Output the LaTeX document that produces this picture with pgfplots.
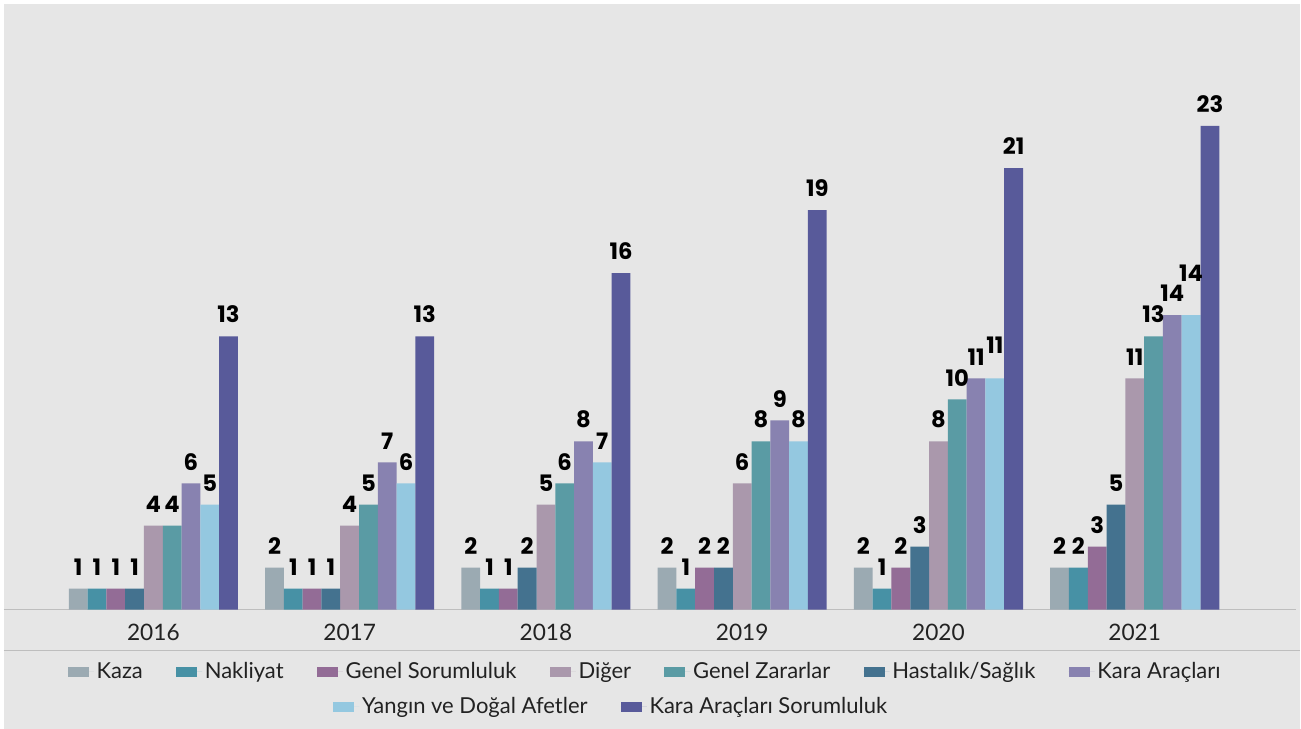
\documentclass[border=0pt]{standalone}
\usepackage{fontspec}
\setmainfont{Lato}
\newfontfamily\popfont{Poppins}
\usepackage{pgfplots}
\usepackage{pgfplotstable}
\pgfplotsset{compat=1.18}

\definecolor{bg}{HTML}{E6E6E6}
\definecolor{linegray}{HTML}{BEBEBE}
\definecolor{txt}{HTML}{222222}
\definecolor{cKaza}{HTML}{9BAAB2}
\definecolor{cNak}{HTML}{4791A5}
\definecolor{cGS}{HTML}{936C96}
\definecolor{cDig}{HTML}{AA98AC}
\definecolor{cGZ}{HTML}{5A9BA4}
\definecolor{cHas}{HTML}{44728F}
\definecolor{cKA}{HTML}{8882B0}
\definecolor{cYan}{HTML}{94C8E0}
\definecolor{cKAS}{HTML}{585A9A}

% x = year index, one column per branch; yoff lifts the Yangin label (px)
\pgfplotstableread{
x kaza nak gs has dig gz ka yan kas yoff
0 1 1 1 1 4  4  6  5  13 0
1 2 1 1 1 4  5  7  6  13 0
2 2 1 1 2 5  6  8  7  16 0
3 2 1 2 2 6  8  9  8  19 0
4 2 1 2 3 8  10 11 11 21 12
5 2 2 3 5 11 13 14 14 23 20
}\branches

\pgfplotsset{
  sqlegend/.style={legend image code/.code={%
    \path (0pt,0pt) -- (19.5pt,0pt);
    \fill[##1] (0pt,-3.75pt) rectangle (15.75pt,3.75pt);}},
  br/.style 2 args={ybar, bar width=14.1pt, draw=none, sqlegend, fill=#1,
    bar shift=#2, every node near coord/.append style={xshift=#2}},
  legrow/.style={legend columns=-1,
    legend style={draw=none, fill=none, font=\fontsize{16.5}{18}\selectfont, text=txt,
      /tikz/every even column/.append style={column sep=23pt}}},
}

\begin{document}
\begin{tikzpicture}
\fill[white] (0pt,0pt) rectangle (975.75pt,546.75pt);
\fill[bg] (3pt,0pt) rectangle (975.75pt,543.75pt);
\draw[linegray, line width=1.1pt] (3pt,58.5pt) -- (975.75pt,58.5pt);

\begin{axis}[
  at={(3pt,89.25pt)}, anchor=south west,
  scale only axis, width=969.75pt, height=454.5pt,
  xmin=-0.761, xmax=5.823, ymin=0, ymax=28.8,
  clip=false,
  axis x line=bottom, axis y line=none,
  axis line style={-, draw=linegray, line width=1.1pt},
  xtick={0,...,5}, xticklabels={2016,2017,2018,2019,2020,2021},
  major tick length=0pt,
  xticklabel style={font=\fontsize{17}{17}\selectfont, text=txt, anchor=north, inner sep=0pt, yshift=-11pt},
  /pgf/number format/assume math mode=true,
  nodes near coords,
  every node near coord/.append style={font=\popfont\bfseries\fontsize{17}{17}\selectfont, text=black, anchor=south, inner sep=0pt, yshift=9.75pt},
  legrow,
  legend style={at={(0.4965,-0.1023)}, anchor=center},
]
\addplot[br={cKaza}{-56.4pt}] table[x=x, y=kaza] {\branches};
\addlegendentry{Kaza}
\addplot[br={cNak}{-42.3pt}] table[x=x, y=nak] {\branches};
\addlegendentry{Nakliyat}
\addplot[br={cGS}{-28.2pt}] table[x=x, y=gs] {\branches};
\addlegendentry{Genel Sorumluluk}
\addplot[br={cDig}{0pt}] table[x=x, y=dig] {\branches};
\addlegendentry{Diğer}
\addplot[br={cGZ}{14.1pt}] table[x=x, y=gz] {\branches};
\addlegendentry{Genel Zararlar}
\addplot[br={cHas}{-14.1pt}] table[x=x, y=has] {\branches};
\addlegendentry{Hastalık/Sağlık}
\addplot[br={cKA}{28.2pt}] table[x=x, y=ka] {\branches};
\addlegendentry{Kara Araçları}
\addplot[br={cYan}{42.3pt}, forget plot,
  visualization depends on={\thisrow{yoff} \as \yoff},
  every node near coord/.append style={yshift=\yoff*0.75pt}] table[x=x, y=yan] {\branches};
\addplot[br={cKAS}{56.4pt}, forget plot] table[x=x, y=kas] {\branches};
\end{axis}

\begin{axis}[
  at={(459pt,16.5pt)}, anchor=center,
  scale only axis, width=10pt, height=10pt,
  xmin=0, xmax=1, ymin=0, ymax=1, hide axis,
  legrow,
  legend style={at={(0.5,0.5)}, anchor=center},
]
\addlegendimage{fill=cYan, draw=none, sqlegend}
\addlegendentry{Yangın ve Doğal Afetler}
\addlegendimage{fill=cKAS, draw=none, sqlegend}
\addlegendentry{Kara Araçları Sorumluluk}
\end{axis}
\end{tikzpicture}
\end{document}
